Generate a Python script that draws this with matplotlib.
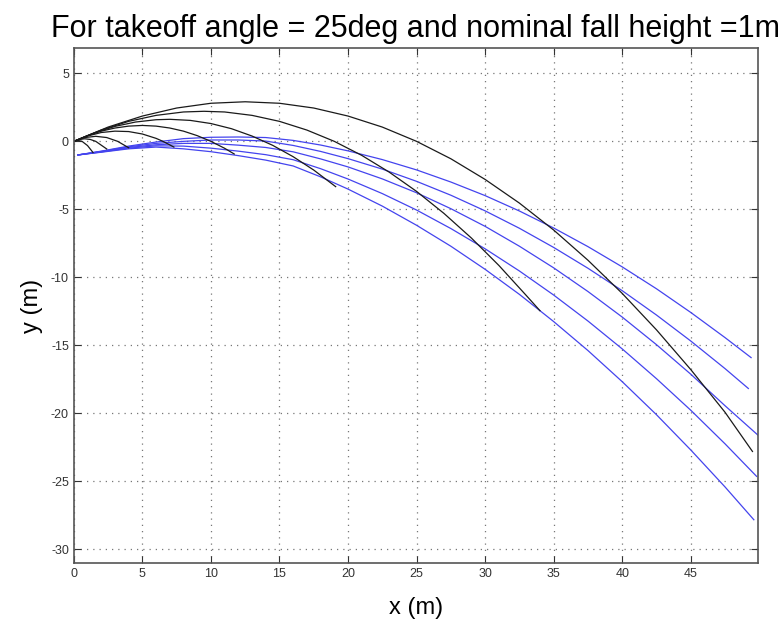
import matplotlib
matplotlib.use("Agg")
import matplotlib.pyplot as plt

# trajectories (black)
traj_a_x = [0, 2.5, 5, 7.5, 10, 12.5, 15, 17.5, 20, 22.5, 25, 27.5, 30, 32.5, 35, 37.5, 40, 42.5, 45, 47.5, 49.5]
traj_a_y = [0, 1.05, 1.86, 2.45, 2.80, 2.91, 2.80, 2.45, 1.86, 1.05, 0.0, -1.28, -2.80, -4.54, -6.52, -8.74, -11.18, -13.86, -16.78, -19.92, -22.8]
traj_b_x = [0, 2, 4, 6, 8, 9.5, 11, 13, 15, 17, 19, 21, 23, 25, 27, 29, 31, 33, 34]
traj_b_y = [0, 0.83, 1.47, 1.91, 2.16, 2.21, 2.16, 1.91, 1.47, 0.83, 0.0, -1.03, -2.26, -3.68, -5.30, -7.11, -9.12, -11.33, -12.45]
traj_c_x = [0, 1.5, 3, 4.5, 6, 7, 8.5, 10, 11.5, 13, 14.5, 16, 17.5, 19.1]
traj_c_y = [0, 0.62, 1.10, 1.42, 1.59, 1.62, 1.54, 1.31, 0.93, 0.39, -0.29, -1.13, -2.11, -3.33]
traj_d_x = [0, 1, 2, 3, 4, 5, 6, 7, 8, 9, 10, 11, 11.7]
traj_d_y = [0, 0.42, 0.75, 0.98, 1.12, 1.17, 1.12, 0.98, 0.75, 0.42, 0.0, -0.51, -0.93]
traj_e_x = [0, 1, 2, 3, 4, 5, 6, 6.5, 7.3]
traj_e_y = [0, 0.39, 0.65, 0.75, 0.72, 0.54, 0.22, 0.0, -0.42]
traj_f_x = [0, 0.8, 1.6, 2.4, 3.2, 4.0]
traj_f_y = [0, 0.28, 0.37, 0.28, 0.0, -0.47]
traj_g_x = [0, 0.4, 0.8, 1.2, 1.6, 2.4]
traj_g_y = [0, 0.14, 0.19, 0.14, 0.0, -0.56]
traj_h_x = [0, 0.3, 0.6, 1.0, 1.4]
traj_h_y = [0, 0.07, 0.0, -0.31, -0.82]

# landing surfaces (blue)
surf_1_x = [0.3, 2, 4, 6, 8, 10, 12, 14, 16, 18, 20, 22.5, 25, 27.5, 30, 32.5, 35, 37.5, 40, 42.5, 45, 47.5, 49.4]
surf_1_y = [-1.0, -0.72, -0.35, -0.05, 0.2, 0.3, 0.32, 0.28, 0.07, -0.27, -0.70, -1.34, -2.10, -2.99, -3.99, -5.12, -6.37, -7.74, -9.23, -10.84, -12.58, -14.43, -15.9]
surf_2_x = [0.3, 2, 4, 6, 8, 10, 12, 14, 16, 18, 20, 22.5, 25, 27.5, 30, 32.5, 35, 37.5, 40, 42.5, 45, 47.5, 49.2]
surf_2_y = [-1.0, -0.74, -0.4, -0.15, 0.0, 0.1, 0.1, 0.02, -0.30, -0.74, -1.27, -2.04, -2.94, -3.96, -5.11, -6.39, -7.80, -9.33, -10.98, -12.77, -14.68, -16.71, -18.17]
surf_3_x = [0.3, 2, 4, 6, 8, 10, 12, 14, 16, 18, 20, 22.5, 25, 27.5, 30, 32.5, 35, 37.5, 40, 42.5, 45, 47.5, 49.9]
surf_3_y = [-1.0, -0.76, -0.45, -0.25, -0.15, -0.15, -0.28, -0.45, -0.77, -1.29, -1.88, -2.76, -3.78, -4.95, -6.25, -7.71, -9.30, -11.04, -12.92, -14.95, -17.12, -19.44, -21.6]
surf_4_x = [0.3, 2, 4, 6, 8, 10, 12, 14, 16, 18, 20, 22.5, 25, 27.5, 30, 32.5, 35, 37.5, 40, 42.5, 45, 47.5, 49.8]
surf_4_y = [-1.0, -0.78, -0.5, -0.33, -0.35, -0.5, -0.72, -0.98, -1.35, -2.01, -2.77, -3.84, -5.05, -6.41, -7.90, -9.53, -11.30, -13.21, -15.26, -17.45, -19.77, -22.24, -24.63]
surf_5_x = [0.3, 2, 4, 6, 8, 10, 12, 14, 16, 18, 20, 22.5, 25, 27.5, 30, 32.5, 35, 37.5, 40, 42.5, 45, 47.5, 49.6]
surf_5_y = [-1.0, -0.8, -0.55, -0.42, -0.55, -0.76, -1.05, -1.38, -1.81, -2.61, -3.51, -4.76, -6.17, -7.71, -9.41, -11.25, -13.25, -15.38, -17.67, -20.10, -22.69, -25.41, -27.82]

x_ticks = [0, 5, 10, 15, 20, 25, 30, 35, 40, 45]
y_ticks = [5, 0, -5, -10, -15, -20, -25, -30]

plt.rcParams['font.family'] = ['Liberation Sans', 'DejaVu Sans']
plt.rcParams['axes.unicode_minus'] = False

fig = plt.figure(figsize=(7.81, 6.28), dpi=100)
ax = fig.add_axes([0.0945, 0.1035, 0.876, 0.820])

surfaces = [(surf_1_x, surf_1_y), (surf_2_x, surf_2_y), (surf_3_x, surf_3_y),
            (surf_4_x, surf_4_y), (surf_5_x, surf_5_y)]
for sx, sy in surfaces:
    ax.plot(sx, sy, color='#4444ee', lw=0.9)

trajs = [(traj_a_x, traj_a_y), (traj_b_x, traj_b_y), (traj_c_x, traj_c_y), (traj_d_x, traj_d_y),
         (traj_e_x, traj_e_y), (traj_f_x, traj_f_y), (traj_g_x, traj_g_y), (traj_h_x, traj_h_y)]
for tx, ty in trajs:
    ax.plot(tx, ty, color='#1a1a1a', lw=0.9)

ax.set_xlim(0, 49.9)
ax.set_ylim(-31.0, 6.86)
ax.set_xticks(x_ticks)
ax.set_yticks(y_ticks)
ax.grid(True, linestyle=(0, (1, 4)), color='#777777', lw=0.9)
ax.tick_params(direction='in', top=True, right=True, length=5, labelsize=9,
               labelcolor='#333333', color='#333333')
for s in ax.spines.values():
    s.set_color('#555555')
    s.set_linewidth(1.2)

ax.set_xlabel('x (m)', fontsize=17, labelpad=12)
ax.set_ylabel('y (m)', fontsize=17, labelpad=6)
ax.set_title('For takeoff angle = 25deg and nominal fall height =1m', fontsize=22, pad=8)

fig.savefig('out.png', dpi=100)
